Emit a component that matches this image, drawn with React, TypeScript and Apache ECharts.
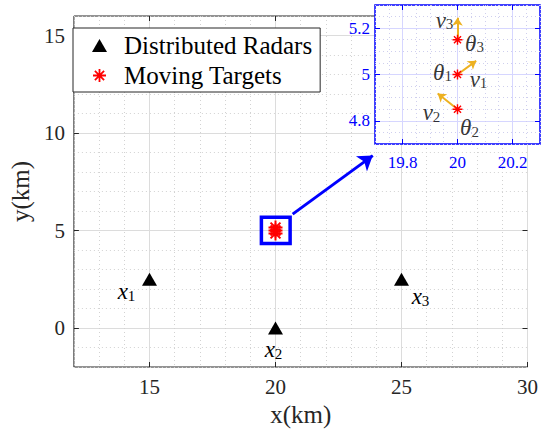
import React, { useEffect, useRef } from "react";
import * as echarts from "echarts";

// ---------- data ----------
const radarX = [15, 20, 25];
const radarY = [2.5, 0, 2.5];
const radarIds = ["1", "2", "3"];
const targetX = [20, 20, 20];
const targetY = [5, 4.85, 5.15];
const targetIds = ["1", "2", "3"];
const velocityDX = [0.068, -0.072, 0];
const velocityDY = [0.059, 0.068, 0.095];

const mainXRange = [12, 30];
const mainYRange = [-2, 16];
const mainXTicks = [15, 20, 25, 30];
const mainYTicks = [0, 5, 10, 15];
const insetXRange = [19.7, 20.3];
const insetYRange = [4.7, 5.3];
const insetXTicks = [19.8, 20, 20.2];
const insetYTicks = [4.8, 5, 5.2];
const zoomBox = [19.44, 4.33, 20.58, 5.68]; // x0, y0, x1, y1 (data units)
const pointerFrom = [20.68, 5.84];
const pointerTo = [23.86, 8.84];

// ---------- styles ----------
const FONT = "'Liberation Serif', 'Times New Roman', serif";
const T = "rgba(0,0,0,0)";
const AXIS_COLOR = "#262626";
const BLUE = "#0000ff";
const ORANGE = "#EDB120";
const ASTERISK =
  "path://M10 0 L10 20 M0 10 L20 10 M2.93 2.93 L17.07 17.07 M2.93 17.07 L17.07 2.93";

const radarLabelOffsets = [
  [-23, 12],
  [-2, 21],
  [19, 17],
];
const thetaLabelOffsets = [
  [-15, -3],
  [12, 18],
  [17, 3],
];
const vLabelOffsets = [
  [21, 4],
  [-26, 3],
  [-13, -20],
];

const rich = {
  i: { fontFamily: FONT, fontStyle: "italic", fontSize: 23, color: "#000", lineHeight: 24, verticalAlign: "bottom" },
  s: { fontFamily: FONT, fontSize: 15, color: "#000", lineHeight: 11, verticalAlign: "bottom" },
};

function periodic(period: number, phase: number, on: string, off: string) {
  return Array.from({ length: period }, (_, i) => (i === phase ? on : off));
}

function buildAxes(
  dim: "x" | "y",
  gridIndex: number,
  range: number[],
  step: number,
  ticks: number[],
  z: number,
  minorColor: string,
  majorColor: string,
  tickColor: string,
  labelStyle: any,
  name?: string,
  nameStyle?: any
) {
  const period = Math.round((ticks[1] - ticks[0]) / step);
  const phase = Math.round((ticks[0] - range[0]) / step) % period;
  const base = {
    type: "value",
    gridIndex,
    min: range[0],
    max: range[1],
    z,
    axisLine: { show: false, onZero: false },
    axisTick: { show: false },
    axisLabel: { show: false },
    splitLine: { show: false },
  };
  const pos = dim === "x" ? ["bottom", "top"] : ["left", "right"];
  const { fontFamily, fontSize, color, margin } = labelStyle;
  return [
    {
      ...base,
      position: pos[0],
      interval: step,
      splitLine: { show: true, lineStyle: { color: periodic(period, phase, T, minorColor), width: 1, type: [1, 3] } },
    },
    {
      ...base,
      position: pos[0],
      interval: step,
      splitLine: { show: true, lineStyle: { color: periodic(period, phase, majorColor, T), width: 1 } },
    },
    {
      ...base,
      position: pos[0],
      axisTick: { show: true, inside: true, length: 5, customValues: ticks, lineStyle: { color: tickColor, width: 1 } },
      axisLabel: {
        show: true,
        customValues: ticks,
        margin,
        fontFamily,
        fontSize,
        color,
        formatter: (v: number) => `{t|${v}}`,
        rich: { t: { fontFamily, fontSize, color } },
      },
      ...(name ? { name, nameLocation: "middle", ...nameStyle } : {}),
    },
    {
      ...base,
      position: pos[1],
      axisTick: { show: true, inside: true, length: 5, customValues: ticks, lineStyle: { color: tickColor, width: 1 } },
    },
  ];
}

export default function App() {
  const ref = useRef<HTMLDivElement>(null);

  useEffect(() => {
    if (!ref.current) return;
    const chart = echarts.init(ref.current, undefined, { renderer: "svg" });

    const mainTickLabel = { fontFamily: FONT, fontSize: 21, color: AXIS_COLOR };
    const insetTickLabel = { fontFamily: FONT, fontSize: 17, color: BLUE };
    const axisNameStyle = { fontFamily: FONT, fontSize: 25, color: AXIS_COLOR };

    const xAxis = [
      ...buildAxes("x", 0, mainXRange, 1, mainXTicks, 0, "#d2d2d2", "#dcdcdc", AXIS_COLOR,
        { ...mainTickLabel, margin: 9 }, "x(km)", { nameGap: 30, nameTextStyle: axisNameStyle }),
      ...buildAxes("x", 1, insetXRange, 0.05, insetXTicks, 3, "#cfcfee", "#d6d6ff", BLUE,
        { ...insetTickLabel, margin: 10 }),
    ];
    const yAxis = [
      ...buildAxes("y", 0, mainYRange, 1, mainYTicks, 0, "#d2d2d2", "#dcdcdc", AXIS_COLOR,
        { ...mainTickLabel, margin: 9 }, "y(km)", { nameGap: 39, nameTextStyle: axisNameStyle }),
      ...buildAxes("y", 1, insetYRange, 0.05, insetYTicks, 3, "#cfcfee", "#d6d6ff", BLUE,
        { ...insetTickLabel, margin: 5 }),
    ];

    const targets = targetX.map((x, i) => [x, targetY[i]]);

    chart.setOption({
      animation: false,
      backgroundColor: "#fff",
      textStyle: { fontFamily: FONT },
      grid: [
        {
          left: 65, top: 16, width: 465, height: 351,
          show: true, backgroundColor: "#fff", borderColor: AXIS_COLOR, borderWidth: 1, z: 0,
        },
        {
          left: 375, top: 5, width: 165, height: 139,
          show: true, backgroundColor: "#fff", borderColor: BLUE, borderWidth: 1.5, z: 3,
        },
      ],
      xAxis,
      yAxis,
      legend: {
        orient: "vertical",
        left: 73,
        top: 28,
        padding: [4, 8, 3, 19],
        itemGap: 3,
        itemWidth: 15,
        itemHeight: 13,
        borderColor: AXIS_COLOR,
        borderWidth: 1,
        borderRadius: 0,
        backgroundColor: "#fff",
        selectedMode: false,
        textStyle: { fontFamily: FONT, fontSize: 25, color: "#000", lineHeight: 27, padding: [0, 0, 0, 12] },
        data: [
          { name: "Distributed Radars", icon: "triangle", itemStyle: { color: "#000", opacity: 1 } },
          { name: "Moving Targets", icon: ASTERISK, itemStyle: { color: T, borderColor: "#ff0000", borderWidth: 1.8, opacity: 1 } },
        ],
      },
      series: [
        {
          type: "scatter",
          name: "Distributed Radars",
          xAxisIndex: 0,
          yAxisIndex: 0,
          symbol: "triangle",
          symbolSize: [15, 13],
          itemStyle: { color: "#000", opacity: 1 },
          z: 2,
          data: radarX.map((x, i) => ({
            value: [x, radarY[i]],
            label: { offset: radarLabelOffsets[i] },
          })),
          label: {
            show: true,
            position: "inside",
            color: "#000",
            formatter: (p: any) => `{i|x}{s|${radarIds[p.dataIndex]}}`,
            rich,
          },
        },
        {
          type: "scatter",
          name: "Moving Targets",
          xAxisIndex: 0,
          yAxisIndex: 0,
          symbol: ASTERISK,
          symbolSize: 14,
          itemStyle: { color: T, borderColor: "#ff0000", borderWidth: 2, opacity: 1 },
          z: 2,
          data: targets,
        },
        {
          type: "custom",
          name: "zoom-box",
          xAxisIndex: 0,
          yAxisIndex: 0,
          z: 2,
          data: [zoomBox],
          renderItem: (_params: any, api: any) => {
            const p0 = api.coord([api.value(0), api.value(3)]);
            const p1 = api.coord([api.value(2), api.value(1)]);
            return {
              type: "rect",
              shape: { x: p0[0], y: p0[1], width: p1[0] - p0[0], height: p1[1] - p0[1] },
              style: { fill: "none", stroke: BLUE, lineWidth: 3.5 },
            };
          },
        },
        {
          type: "lines",
          name: "pointer",
          coordinateSystem: "cartesian2d",
          xAxisIndex: 0,
          yAxisIndex: 0,
          z: 2,
          symbol: ["none", "arrow"],
          symbolSize: 14,
          lineStyle: { color: BLUE, width: 3, opacity: 1 },
          data: [{ coords: [pointerFrom, pointerTo] }],
        },
        // ----- inset -----
        {
          type: "lines",
          name: "velocity",
          coordinateSystem: "cartesian2d",
          xAxisIndex: 4,
          yAxisIndex: 4,
          z: 5,
          symbol: ["none", "arrow"],
          symbolSize: 8,
          lineStyle: { color: ORANGE, width: 2, opacity: 1 },
          data: targets.map((t, i) => ({
            coords: [t, [t[0] + velocityDX[i], t[1] + velocityDY[i]]],
          })),
        },
        {
          type: "scatter",
          name: "inset-targets",
          xAxisIndex: 4,
          yAxisIndex: 4,
          symbol: ASTERISK,
          symbolSize: 10,
          itemStyle: { color: T, borderColor: "#ff0000", borderWidth: 1.4, opacity: 1 },
          z: 6,
          data: targets,
        },
        {
          type: "scatter",
          name: "theta-labels",
          xAxisIndex: 4,
          yAxisIndex: 4,
          symbolSize: 1,
          itemStyle: { color: T },
          z: 6,
          data: targets.map((t, i) => ({ value: t, label: { offset: thetaLabelOffsets[i] } })),
          label: {
            show: true,
            position: "inside",
            color: "#000",
            formatter: (p: any) => `{i|θ}{s|${targetIds[p.dataIndex]}}`,
            rich,
          },
        },
        {
          type: "scatter",
          name: "v-labels",
          xAxisIndex: 4,
          yAxisIndex: 4,
          symbolSize: 1,
          itemStyle: { color: T },
          z: 6,
          data: targets.map((t, i) => ({ value: t, label: { offset: vLabelOffsets[i] } })),
          label: {
            show: true,
            position: "inside",
            color: "#000",
            formatter: (p: any) => `{i|v}{s|${targetIds[p.dataIndex]}}`,
            rich,
          },
        },
      ],
    });

    return () => chart.dispose();
  }, []);

  return (
    <div
      ref={ref}
      style={{ position: "fixed", left: 0, top: 0, width: 541, height: 432, background: "#fff" }}
    />
  );
}
